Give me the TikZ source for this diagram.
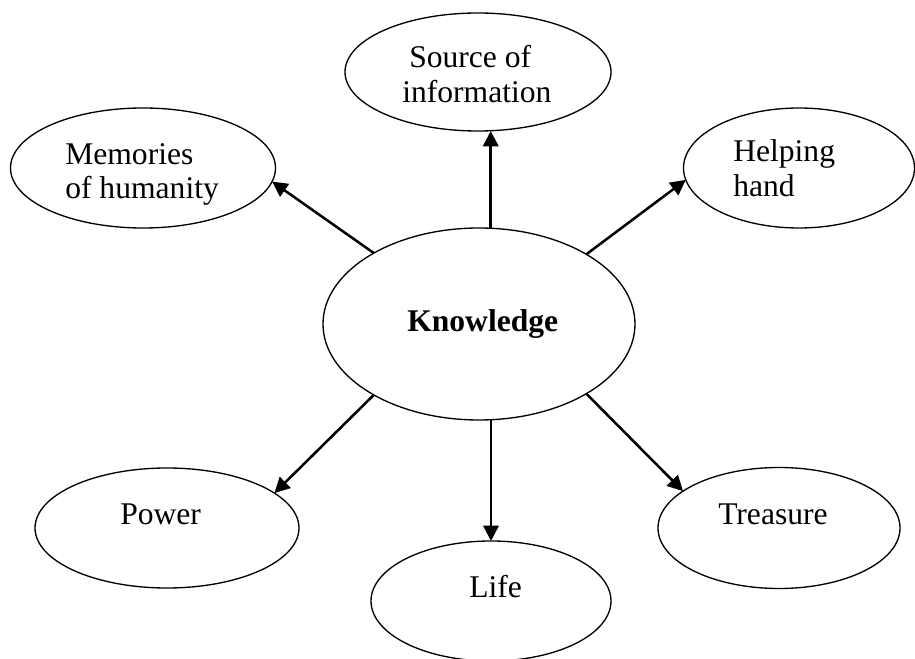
\documentclass[tikz,border=0pt]{standalone}
\usepackage{fontspec}
\setmainfont{Liberation Serif}
\usetikzlibrary{shapes.geometric,arrows.meta}
\begin{document}
\begin{tikzpicture}[x=0.75pt,y=-0.75pt,
  bub/.style={draw, ellipse, line width=1pt, inner sep=0pt, outer sep=0pt},
  lbl/.style={anchor=base west, inner sep=0pt, font=\fontsize{23.7}{28}\selectfont},
  con/.style={line width=1.9pt, -{Triangle[length=11.5pt,width=11.5pt]}}]
\useasboundingbox (0,0) rectangle (915,659);
% ellipses
\node[bub, minimum width={312*0.75pt}, minimum height={192*0.75pt}] (know) at (479,324) {};
\node[bub, minimum width={266*0.75pt}, minimum height={118*0.75pt}] (src) at (478,72) {};
\node[bub, minimum width={265*0.75pt}, minimum height={120*0.75pt}] (mem) at (143,168) {};
\node[bub, minimum width={231*0.75pt}, minimum height={120*0.75pt}] (help) at (799,168) {};
\node[bub, minimum width={264*0.75pt}, minimum height={120*0.75pt}] (pow) at (167,528) {};
\node[bub, minimum width={242*0.75pt}, minimum height={121*0.75pt}] (tre) at (779,528) {};
\node[bub, minimum width={240*0.75pt}, minimum height={120*0.75pt}] (life) at (491,601) {};
% texts
\node[lbl, font=\fontsize{23.7}{28}\selectfont\bfseries] (tknow) at (407,332) {Knowledge};
\node[lbl] (tsrc1) at (409,68) {Source of};
\node[lbl] (tsrc2) at (402,103) {information};
\node[lbl] (tmem1) at (65,165) {Memories};
\node[lbl] (tmem2) at (65,199) {of humanity};
\node[lbl] (thelp1) at (733,162) {Helping};
\node[lbl] (thelp2) at (733,197) {hand};
\node[lbl] (tpow) at (120,524) {Power};
\node[lbl] (ttre) at (718,524) {Treasure};
\node[lbl] (tlife) at (469,597) {Life};
% connectors
\draw[con] (know.83.5) -- (know.83.5 |- src.south);
\draw[con] (know.146) -- (mem.-6);
\draw[con] (know.33.7) -- (help.186.4);
\draw[con] (know.214.3) -- (pow.18.3);
\draw[con] (know.-33.6) -- (tre.159);
\draw[con] (life.north |- know.south) -- (life.north);
\end{tikzpicture}
\end{document}
